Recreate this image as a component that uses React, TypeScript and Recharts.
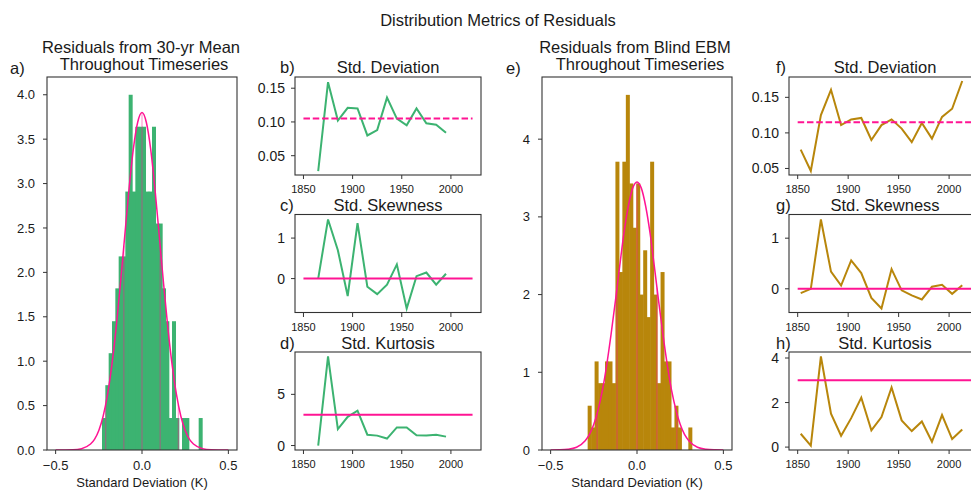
import React from 'react'
import { ComposedChart, LineChart, Line, Bar, XAxis, YAxis, ReferenceLine } from 'recharts'

const GREEN = '#3cb371'
const GOLD = '#b8860b'
const PINK = '#ff1493'
const INK = '#1a1a1a'
const SPINE = '#333333'
const FONT = '"Liberation Sans", Arial, Helvetica, sans-serif'

// a) residuals from 30-yr mean, density histogram
const histAStart = -0.2316
const histABin = 0.0193
const histAHeights = [
  0.36, 0.73, 1.09, 1.45, 1.82, 2.18, 2.18, 2.91, 4.0, 2.91,
  3.64, 3.64, 3.64, 2.91, 2.91, 3.64, 2.55, 2.55, 1.82, 1.45,
  0.36, 1.45, 0.36, 0, 0.36, 0.36, 0, 0, 0, 0.36,
]
const curveAX = [-0.5, -0.4, -0.35, -0.3, -0.275, -0.25, -0.225, -0.2, -0.175, -0.15, -0.125, -0.1, -0.075, -0.05, -0.025, 0,
  0.025, 0.05, 0.075, 0.1, 0.125, 0.15, 0.175, 0.2, 0.225, 0.25, 0.275, 0.3, 0.35, 0.4, 0.5]
const curveAY = [0, 0.003, 0.015, 0.064, 0.12, 0.22, 0.38, 0.62, 0.95, 1.37, 1.87, 2.41, 2.94, 3.39, 3.69, 3.8,
  3.69, 3.39, 2.94, 2.41, 1.87, 1.37, 0.95, 0.62, 0.38, 0.22, 0.12, 0.064, 0.015, 0.003, 0]
const marksAX = [-0.21, -0.105, 0, 0.105, 0.21]
const marksAH = [0.51, 2.3, 3.8, 2.3, 0.51]

// e) residuals from blind EBM
const histEStart = -0.2857
const histEBin = 0.0201
const histEHeights = [
  0.57, 0.29, 1.14, 0.86, 0.86, 1.14, 1.14, 0.86, 3.71, 2.29,
  3.71, 4.57, 3.43, 2.86, 3.43, 2.0, 2.57, 1.71, 3.71, 2.0,
  0.86, 2.29, 1.14, 1.14, 0.29, 0.57, 0.29, 0, 0, 0.29,
]
const curveEX = [-0.5, -0.45, -0.4, -0.35, -0.3, -0.275, -0.25, -0.225, -0.2, -0.175, -0.15, -0.125, -0.1, -0.075, -0.05, -0.025, 0,
  0.025, 0.05, 0.075, 0.1, 0.125, 0.15, 0.175, 0.2, 0.225, 0.25, 0.275, 0.3, 0.35, 0.4, 0.45, 0.5]
const curveEY = [0, 0.002, 0.009, 0.035, 0.12, 0.2, 0.33, 0.52, 0.77, 1.1, 1.49, 1.92, 2.37, 2.8, 3.14, 3.37, 3.45,
  3.37, 3.14, 2.8, 2.37, 1.92, 1.49, 1.1, 0.77, 0.52, 0.33, 0.2, 0.12, 0.035, 0.009, 0.002, 0]
const marksEX = [-0.231, -0.1156, 0, 0.1156, 0.231]
const marksEH = [0.47, 2.09, 3.45, 2.09, 0.47]

// b-d) 30-yr mean residual moments
const yearsA = [1865, 1875, 1885, 1895, 1905, 1915, 1925, 1935, 1945, 1955, 1965, 1975, 1985, 1995]
const stdA = [0.027, 0.159, 0.102, 0.121, 0.12, 0.08, 0.088, 0.136, 0.105, 0.095, 0.12, 0.098, 0.096, 0.084]
const skewA = [0.0, 1.46, 0.7, -0.43, 1.37, -0.2, -0.385, -0.15, 0.35, -0.74, 0.06, 0.15, -0.15, 0.12]
const kurtA = [0.0, 8.7, 1.6, 2.8, 3.4, 1.06, 0.97, 0.68, 1.77, 1.77, 1.0, 0.97, 1.06, 0.87]

// f-h) blind EBM residual moments
const yearsB = [1853, 1863, 1873, 1883, 1893, 1903, 1913, 1923, 1933, 1943, 1953, 1963, 1973, 1983, 1993, 2003, 2013]
const stdB = [0.0765, 0.0465, 0.125, 0.1606, 0.111, 0.119, 0.121, 0.09, 0.111, 0.119, 0.106, 0.087, 0.114, 0.092, 0.1225, 0.134, 0.173]
const skewB = [-0.085, 0.0, 1.37, 0.34, 0.065, 0.56, 0.31, -0.18, -0.39, 0.39, -0.03, -0.13, -0.21, 0.04, 0.08, -0.1, 0.07]
const kurtB = [0.6, 0.07, 4.07, 1.5, 0.51, 1.3, 2.22, 0.75, 1.35, 2.68, 1.2, 0.72, 1.15, 0.24, 1.44, 0.36, 0.79]

const refSpan = [1850, 2022]
const yearTicks = [1850, 1900, 1950, 2000]
const histXTicks = [-0.5, 0, 0.5]

const Y_W = 52
const X_H = 30
const PAD = 10
const YEAR_DOMAIN = [1841.4, 2030.6]
const HIST_DOMAIN = [-0.55, 0.55]

type Box = { left: number; top: number; width: number; height: number }

const boxA: Box = { left: 47, top: 77, width: 190, height: 373 }
const boxE: Box = { left: 542, top: 77, width: 190, height: 373 }
const boxB: Box = { left: 295, top: 77, width: 186, height: 98 }
const boxC: Box = { left: 295, top: 214.5, width: 186, height: 98 }
const boxD: Box = { left: 295, top: 352, width: 186, height: 98 }
const boxF: Box = { left: 789, top: 77, width: 191, height: 98 }
const boxG: Box = { left: 789, top: 214.5, width: 191, height: 98 }
const boxH: Box = { left: 789, top: 352, width: 191, height: 98 }

const signed1 = (v: number) => (v < 0 ? '\u2212' : '') + Math.abs(v).toFixed(1)

const HistBar = (p: any) => <rect x={p.x} y={p.y} width={p.width + 1} height={p.height} fill={p.fill} />

const chartMargin = { top: PAD, right: PAD, bottom: 0, left: 0 }
const wrapStyle = (box: Box): React.CSSProperties => ({ position: 'absolute', left: box.left - Y_W, top: box.top - PAD })

function HistPanel({ box, start, bin, heights, curveX, curveY, markX, markH, color, yDomain, yTicks, yFmt }: any) {
  const bins = heights.map((h: number, i: number) => ({ x: start + (i + 0.5) * bin, y: h }))
  const curve = curveX.map((x: number, i: number) => ({ x, y: curveY[i] }))
  const tick = { fill: INK, fontSize: 13, fontFamily: FONT }
  return (
    <div style={wrapStyle(box)}>
      <ComposedChart
        data={bins}
        width={box.width + Y_W + PAD}
        height={box.height + X_H + PAD}
        margin={chartMargin}
        barCategoryGap={0}
        barGap={0}
      >
        <XAxis dataKey="x" type="number" domain={HIST_DOMAIN} allowDataOverflow ticks={histXTicks} interval={0}
          tickFormatter={signed1} height={X_H} axisLine={false} tickLine={{ stroke: SPINE }} tickSize={4} tickMargin={7} tick={tick} />
        <XAxis xAxisId="curve" dataKey="x" type="number" domain={HIST_DOMAIN} allowDataOverflow hide />
        <YAxis type="number" domain={yDomain} allowDataOverflow ticks={yTicks} interval={0} tickFormatter={yFmt}
          width={Y_W} axisLine={false} tickLine={{ stroke: SPINE }} tickSize={4} tickMargin={8} tick={tick} />
        <Bar dataKey="y" fill={color} shape={HistBar} isAnimationActive={false} />
        {markX.map((x: number, i: number) => (
          <ReferenceLine key={i} xAxisId="curve" segment={[{ x, y: 0 }, { x, y: markH[i] }]}
            stroke={PINK} strokeOpacity={0.5} strokeWidth={1} />
        ))}
        <Line xAxisId="curve" data={curve} dataKey="y" type="monotone" stroke={PINK} strokeWidth={1.5}
          dot={false} activeDot={false} isAnimationActive={false} />
      </ComposedChart>
    </div>
  )
}

function LinePanel({ box, years, values, color, refValue, dashed, yDomain, yTicks, yFmt }: any) {
  const series = years.map((x: number, i: number) => ({ x, y: values[i] }))
  const ref = refSpan.map((x) => ({ x, y: refValue }))
  return (
    <div style={wrapStyle(box)}>
      <LineChart width={box.width + Y_W + PAD} height={box.height + X_H + PAD} margin={chartMargin}>
        <XAxis dataKey="x" type="number" domain={YEAR_DOMAIN} allowDataOverflow ticks={yearTicks} interval={0}
          height={X_H} axisLine={false} tickLine={{ stroke: SPINE }} tickSize={4} tickMargin={6}
          tick={{ fill: INK, fontSize: 11, fontFamily: FONT }} />
        <YAxis type="number" domain={yDomain} allowDataOverflow ticks={yTicks} interval={0} tickFormatter={yFmt}
          width={Y_W} axisLine={false} tickLine={{ stroke: SPINE }} tickSize={4} tickMargin={6}
          tick={{ fill: INK, fontSize: 14, fontFamily: FONT }} />
        <Line data={series} dataKey="y" stroke={color} strokeWidth={2} dot={false} activeDot={false} isAnimationActive={false} />
        <Line data={ref} dataKey="y" stroke={PINK} strokeWidth={2} strokeDasharray={dashed ? '6.5 2.8' : undefined}
          dot={false} activeDot={false} isAnimationActive={false} />
      </LineChart>
    </div>
  )
}

const fmt2 = (v: number) => v.toFixed(2)
const fmt0 = (v: number) => String(v)

const TITLE = 16.5

export default function App() {
  const frames = [boxA, boxB, boxC, boxD, boxE, boxF, boxG, boxH]
  return (
    <div style={{ position: 'fixed', left: 0, top: 0, width: 971, height: 490, overflow: 'hidden', background: '#fff' }}>
      <HistPanel box={boxA} start={histAStart} bin={histABin} heights={histAHeights} curveX={curveAX} curveY={curveAY}
        markX={marksAX} markH={marksAH} color={GREEN} yDomain={[0, 4.2]} yTicks={[0, 0.5, 1, 1.5, 2, 2.5, 3, 3.5, 4]}
        yFmt={(v: number) => v.toFixed(1)} />
      <HistPanel box={boxE} start={histEStart} bin={histEBin} heights={histEHeights} curveX={curveEX} curveY={curveEY}
        markX={marksEX} markH={marksEH} color={GOLD} yDomain={[0, 4.8]} yTicks={[0, 1, 2, 3, 4]} yFmt={fmt0} />

      <LinePanel box={boxB} years={yearsA} values={stdA} color={GREEN} refValue={0.105} dashed
        yDomain={[0.0214, 0.1666]} yTicks={[0.05, 0.1, 0.15]} yFmt={fmt2} />
      <LinePanel box={boxC} years={yearsA} values={skewA} color={GREEN} refValue={0}
        yDomain={[-0.85, 1.57]} yTicks={[0, 1]} yFmt={fmt0} />
      <LinePanel box={boxD} years={yearsA} values={kurtA} color={GREEN} refValue={3}
        yDomain={[-0.435, 9.135]} yTicks={[0, 5]} yFmt={fmt0} />

      <LinePanel box={boxF} years={yearsB} values={stdB} color={GOLD} refValue={0.115} dashed
        yDomain={[0.0408, 0.1786]} yTicks={[0.05, 0.1, 0.15]} yFmt={fmt2} />
      <LinePanel box={boxG} years={yearsB} values={skewB} color={GOLD} refValue={0}
        yDomain={[-0.478, 1.458]} yTicks={[0, 1]} yFmt={fmt0} />
      <LinePanel box={boxH} years={yearsB} values={kurtB} color={GOLD} refValue={3}
        yDomain={[-0.13, 4.27]} yTicks={[0, 2, 4]} yFmt={fmt0} />

      <svg width={971} height={490} style={{ position: 'absolute', left: 0, top: 0, pointerEvents: 'none' }}
        fontFamily={FONT} fill={INK}>
        {frames.map((b, i) => (
          <rect key={i} x={b.left} y={b.top} width={b.width} height={b.height} fill="none" stroke={SPINE} strokeWidth={1.1} />
        ))}
        <text x={498} y={26} fontSize={TITLE} textAnchor="middle">Distribution Metrics of Residuals</text>

        <text x={141} y={53} fontSize={TITLE} textAnchor="middle">Residuals from 30-yr Mean</text>
        <text x={144} y={70} fontSize={TITLE} textAnchor="middle">Throughout Timeseries</text>
        <text x={10} y={74} fontSize={TITLE}>a)</text>
        <text x={280} y={73} fontSize={TITLE}>b)</text>
        <text x={388} y={73} fontSize={TITLE} textAnchor="middle">Std. Deviation</text>
        <text x={280} y={211} fontSize={TITLE}>c)</text>
        <text x={388} y={211} fontSize={TITLE} textAnchor="middle">Std. Skewness</text>
        <text x={280} y={349} fontSize={TITLE}>d)</text>
        <text x={388} y={349} fontSize={TITLE} textAnchor="middle">Std. Kurtosis</text>

        <text x={635} y={53} fontSize={TITLE} textAnchor="middle">Residuals from Blind EBM</text>
        <text x={640} y={70} fontSize={TITLE} textAnchor="middle">Throughout Timeseries</text>
        <text x={506} y={74} fontSize={TITLE}>e)</text>
        <text x={776} y={73} fontSize={TITLE}>f)</text>
        <text x={885} y={73} fontSize={TITLE} textAnchor="middle">Std. Deviation</text>
        <text x={776} y={211} fontSize={TITLE}>g)</text>
        <text x={885} y={211} fontSize={TITLE} textAnchor="middle">Std. Skewness</text>
        <text x={776} y={349} fontSize={TITLE}>h)</text>
        <text x={885} y={349} fontSize={TITLE} textAnchor="middle">Std. Kurtosis</text>

        <text x={142} y={487} fontSize={13} textAnchor="middle">Standard Deviation (K)</text>
        <text x={637} y={487} fontSize={13} textAnchor="middle">Standard Deviation (K)</text>
      </svg>
    </div>
  )
}
